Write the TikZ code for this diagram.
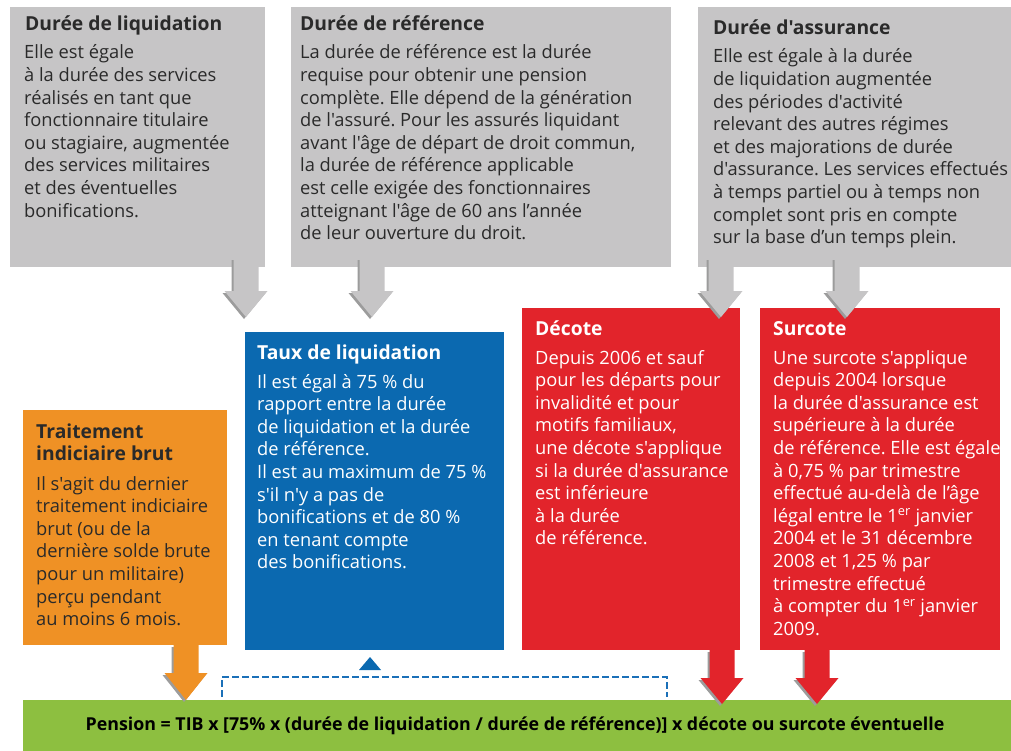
\documentclass[tikz,border=0pt]{standalone}
\usepackage{fontspec}
\setmainfont{Open Sans}[Ligatures=TeXOff]
\frenchspacing
\definecolor{boxgray}{HTML}{C6C5C6}
\definecolor{shadowgray}{HTML}{9C9C9C}
\definecolor{boxblue}{HTML}{0B69B0}
\definecolor{boxred}{HTML}{E2242B}
\definecolor{boxorange}{HTML}{EF9125}
\definecolor{boxgreen}{HTML}{8DBF40}
\definecolor{dashblue}{HTML}{1B70B8}
\definecolor{darktext}{HTML}{2A2A2A}
\newcommand\bodylines[1]{\begin{tabular}[t]{@{}l@{}}#1\end{tabular}}
\begin{document}
\begin{tikzpicture}[x=1pt,y=-1pt,
  panel/.style={anchor=north west, inner sep=0pt, outer sep=0pt, fill=#1},
  headtxt/.style={anchor=base west, inner sep=0pt, font=\fontsize{19.3}{22.6}\selectfont\bfseries},
  bodytxt/.style={anchor=base west, inner sep=0pt, font=\fontsize{18.3}{22.6}\selectfont\frenchspacing},
  pics/blockarrow/.style n args={3}{code={
    \fill[shadowgray] (-14.5,2) -- (10.5,2) -- (10.5,#2-#3+2) -- (19.5,#2-#3+2) -- (-2,#2+2) -- (-23.5,#2-#3+2) -- (-14.5,#2-#3+2) -- cycle;
    \fill[#1] (-12.5,0) -- (12.5,0) -- (12.5,#2-#3) -- (21.5,#2-#3) -- (0,#2) -- (-21.5,#2-#3) -- (-12.5,#2-#3) -- cycle;
  }}]
\useasboundingbox (0,0) rectangle (1011,751);

% ---------- panels ----------
\node[panel=boxgray, minimum width=255pt, minimum height=260pt] (liq) at (10,7) {};
\node[panel=boxgray, minimum width=380pt, minimum height=260pt] (ref) at (291,7) {};
\node[panel=boxgray, minimum width=313pt, minimum height=260pt] (ass) at (698,7) {};
\node[panel=boxblue, minimum width=259pt, minimum height=318pt] (taux) at (245,332) {};
\node[panel=boxorange, minimum width=204pt, minimum height=235pt] (tib) at (23,410) {};
\node[panel=boxred, minimum width=218pt, minimum height=342pt] (dec) at (522,308) {};
\node[panel=boxred, minimum width=240pt, minimum height=342pt] (sur) at (760,308) {};
\node[panel=boxgreen, minimum width=988pt, minimum height=51pt] (pen) at (23,700) {};

% ---------- texts ----------
\node[headtxt, text=darktext] (liqh) at (25,31) {Durée de liquidation};
\node[bodytxt, text=darktext] (liqb) at (24,59) {\bodylines{Elle est égale\\
à la durée des services\\
réalisés en tant que\\
fonctionnaire titulaire\\
ou stagiaire, augmentée\\
des services militaires\\
et des éventuelles\\
bonifications.}};

\node[headtxt, text=darktext] (refh) at (300,31) {Durée de référence};
\node[bodytxt, text=darktext] (refb) at (300,59) {\bodylines{La durée de référence est la durée\\
requise pour obtenir une pension\\
complète. Elle dépend de la génération\\
de l'assuré. Pour les assurés liquidant\\
avant l'âge de départ de droit commun,\\
la durée de référence applicable\\
est celle exigée des fonctionnaires\\
atteignant l'âge de 60 ans l’année\\
de leur ouverture du droit.}};

\node[headtxt, text=darktext] (assh) at (713,35) {Durée d'assurance};
\node[bodytxt, text=darktext] (assb) at (713,63) {\bodylines{Elle est égale à la durée\\
de liquidation augmentée\\
des périodes d'activité\\
relevant des autres régimes\\
et des majorations de durée\\
d'assurance. Les services effectués\\
à temps partiel ou à temps non\\
complet sont pris en compte\\
sur la base d’un temps plein.}};

\node[headtxt, text=white] (tauxh) at (257,359) {Taux de liquidation};
\node[bodytxt, text=white] (tauxb) at (257,388) {\bodylines{Il est égal à 75 \% du\\
rapport entre la durée\\
de liquidation et la durée\\
de référence.\\
Il est au maximum de 75 \%\\
s'il n'y a pas de\\
bonifications et de 80 \%\\
en tenant compte\\
des bonifications.}};

\node[headtxt, text=darktext] (tibh) at (36,438) {\bodylines{Traitement\\indiciaire brut}};
\node[bodytxt, text=darktext] (tibb) at (36,490) {\bodylines{Il s'agit du dernier\\
traitement indiciaire\\
brut (ou de la\\
dernière solde brute\\
pour un militaire)\\
perçu pendant\\
au moins 6 mois.}};

\node[headtxt, text=white] (dech) at (535,335) {Décote};
\node[bodytxt, text=white] (decb) at (535,364) {\bodylines{Depuis 2006 et sauf\\
pour les départs pour\\
invalidité et pour\\
motifs familiaux,\\
une décote s'applique\\
si la durée d'assurance\\
est inférieure\\
à la durée\\
de référence.}};

\node[headtxt, text=white] (surh) at (773,335) {Surcote};
\node[bodytxt, text=white] (surb) at (773,364) {\bodylines{Une surcote s'applique\\
depuis 2004 lorsque\\
la durée d'assurance est\\
supérieure à la durée\\
de référence. Elle est égale\\
à 0,75 \% par trimestre\\
effectué au-delà de l’âge\\
légal entre le 1\textsuperscript{er} janvier\\
2004 et le 31 décembre\\
2008 et 1,25 \% par\\
trimestre effectué\\
à compter du 1\textsuperscript{er} janvier\\
2009.}};

\node[inner sep=0pt, font=\fontsize{17.8}{20}\selectfont\bfseries, text=black] (pent) at (515,726)
  {Pension = TIB x [75\% x (durée de liquidation / durée de référence)] x décote ou surcote éventuelle};

% ---------- block arrows ----------
\pic at (246,258) {blockarrow={boxgray}{59}{26}};
\pic at (372,258) {blockarrow={boxgray}{59}{26}};
\pic at (721,258) {blockarrow={boxgray}{59}{26}};
\pic at (847,258) {blockarrow={boxgray}{59}{26}};
\pic at (186,645) {blockarrow={boxorange}{55}{27}};
\pic at (722,650) {blockarrow={boxred}{54}{26}};
\pic at (817,650) {blockarrow={boxred}{54}{26}};

% ---------- dashed feedback to the rate ----------
\coordinate (fbL) at (222,697);
\coordinate (fbR) at (667,697);
\coordinate (fbT) at (370,657);
\draw[dashblue, line width=2pt, dash pattern=on 7pt off 3pt] (fbL) -- (222,677) -- (667,677) -- (fbR);
\fill[boxblue] (fbT) -- ++(11,13) -- ++(-22,0) -- cycle;
\end{tikzpicture}
\end{document}
